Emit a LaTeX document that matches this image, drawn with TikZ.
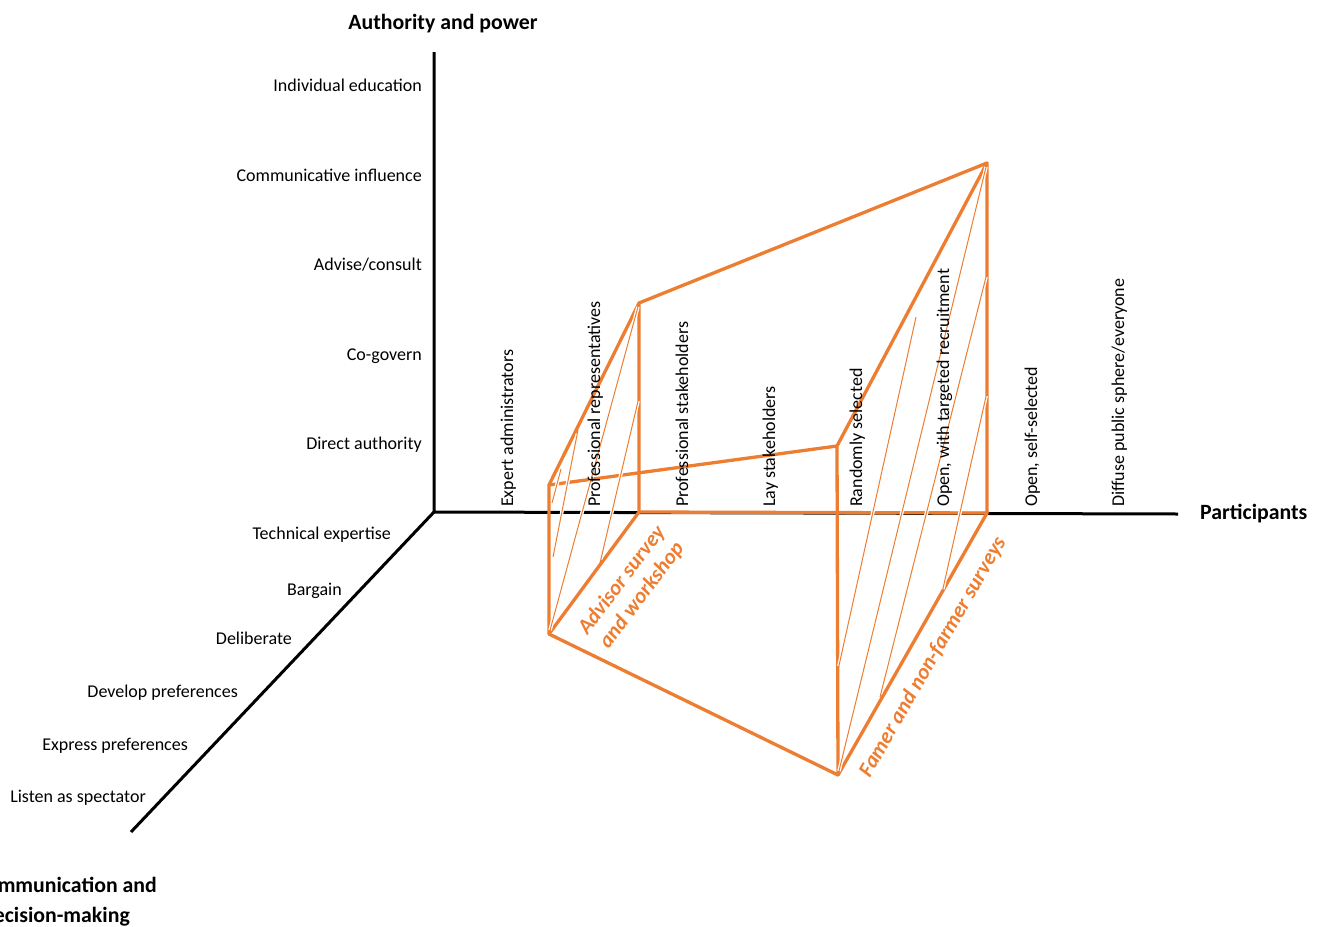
\documentclass[tikz,border=0pt]{standalone}
\usepackage{fontspec}
\setmainfont{Carlito}
\definecolor{ora}{HTML}{ED7D31}
\begin{document}
\begin{tikzpicture}[x=1pt,y=-1pt,
  axis/.style={line width=3pt,black},
  edge/.style={line width=3.3pt,ora,line join=round,line cap=round},
  hatch/.style={ora,line width=1pt,preaction={draw=white,line width=3.5pt,shorten <=4pt,shorten >=4pt}},
  lab/.style={font=\fontsize{18}{21}\selectfont,inner sep=0pt},
  vlab/.style={lab,anchor=base east},
  plab/.style={lab,rotate=90,anchor=base west},
  title/.style={font=\fontsize{21.8}{25}\selectfont\bfseries,inner sep=0pt},
  olab/.style={font=\fontsize{21.5}{25}\selectfont\bfseries\itshape,text=ora,inner sep=0pt,align=center}
]
\useasboundingbox (0,0) rectangle (1322,926);
% axes
\coordinate (O) at (434,512);
\coordinate (Ytop) at (434,52);
\coordinate (Xend) at (1178,514);
\coordinate (Zend) at (131,832);
\draw[axis] (Ytop) -- (O) -- (Xend);
\draw[axis] (O) -- (Zend);
% prism corners
\coordinate (LTL) at (549,485);
\coordinate (LT) at (639,303);
\coordinate (LB) at (639,512);
\coordinate (LBL) at (549,634);
\coordinate (RTL) at (837,446);
\coordinate (RT) at (987,163);
\coordinate (RB) at (987,513);
\coordinate (RBL) at (838,775);
\draw[edge] (LTL) -- (LT) -- (LB) -- (LBL) -- cycle;
\draw[edge] (RTL) -- (RT) -- (RB) -- (RBL) -- cycle;
\draw[edge] (LTL) -- (RTL);
\draw[edge] (LT) -- (RT);
\draw[edge] (LB) -- (RB);
\draw[edge] (LBL) -- (RBL);
% hatching, left face
\coordinate (h1a) at (552,503); \coordinate (h1b) at (561,469);
\coordinate (h2a) at (553,557); \coordinate (h2b) at (578,430);
\coordinate (h4a) at (600,563); \coordinate (h4b) at (639,397);
\draw[hatch] (h1a) -- (h1b);
\draw[hatch] (h2a) -- (h2b);
\draw[hatch] (LBL) -- (LT);
\draw[hatch] (h4a) -- (h4b);
% hatching, right face
\coordinate (r1a) at (838,670); \coordinate (r1b) at (916,317);
\coordinate (r3a) at (880,697); \coordinate (r3b) at (987,273);
\coordinate (r4a) at (942,593); \coordinate (r4b) at (987,392);
\draw[hatch] (r1a) -- (r1b);
\draw[hatch] (RBL) -- (RT);
\draw[hatch] (r3a) -- (r3b);
\draw[hatch] (r4a) -- (r4b);
% axis titles
\node[title,anchor=base] (tA) at (443,29) {Authority and power};
\node[title,anchor=base west] (tP) at (1200,519) {Participants};
\node[title,anchor=base east] (tC1) at (157,892) {Communication and};
\node[title,anchor=base east] (tC2) at (130,922) {decision-making};
% vertical axis labels
\node[vlab] (v1) at (422,91) {Individual education};
\node[vlab] (v2) at (422,181) {Communicative influence};
\node[vlab] (v3) at (422,270) {Advise/consult};
\node[vlab] (v4) at (422,360) {Co-govern};
\node[vlab] (v5) at (422,449) {Direct authority};
% diagonal axis labels
\node[vlab] (d1) at (391,539) {Technical expertise};
\node[vlab] (d2) at (342,595) {Bargain};
\node[vlab] (d3) at (292,644) {Deliberate};
\node[vlab] (d4) at (238,697) {Develop preferences};
\node[vlab] (d5) at (188,750) {Express preferences};
\node[vlab] (d6) at (146,802) {Listen as spectator};
% participant labels
\node[plab] (p1) at (513,507) {Expert administrators};
\node[plab] (p2) at (600,507) {Professional representatives};
\node[plab] (p3) at (688,507) {Professional stakeholders};
\node[plab] (p4) at (775,507) {Lay stakeholders};
\node[plab] (p5) at (862,507) {Randomly selected};
\node[plab] (p6) at (949,507) {Open, with targeted recruitment};
\node[plab] (p7) at (1037,507) {Open, self-selected};
\node[plab] (p8) at (1124,507) {Diffuse public sphere/everyone};
% orange labels
\node[olab,rotate=53] (oA) at (632,588) {Advisor survey\\and workshop};
\node[olab,rotate=60] (oF) at (933,657) {Famer and non-farmer surveys};
\end{tikzpicture}
\end{document}
